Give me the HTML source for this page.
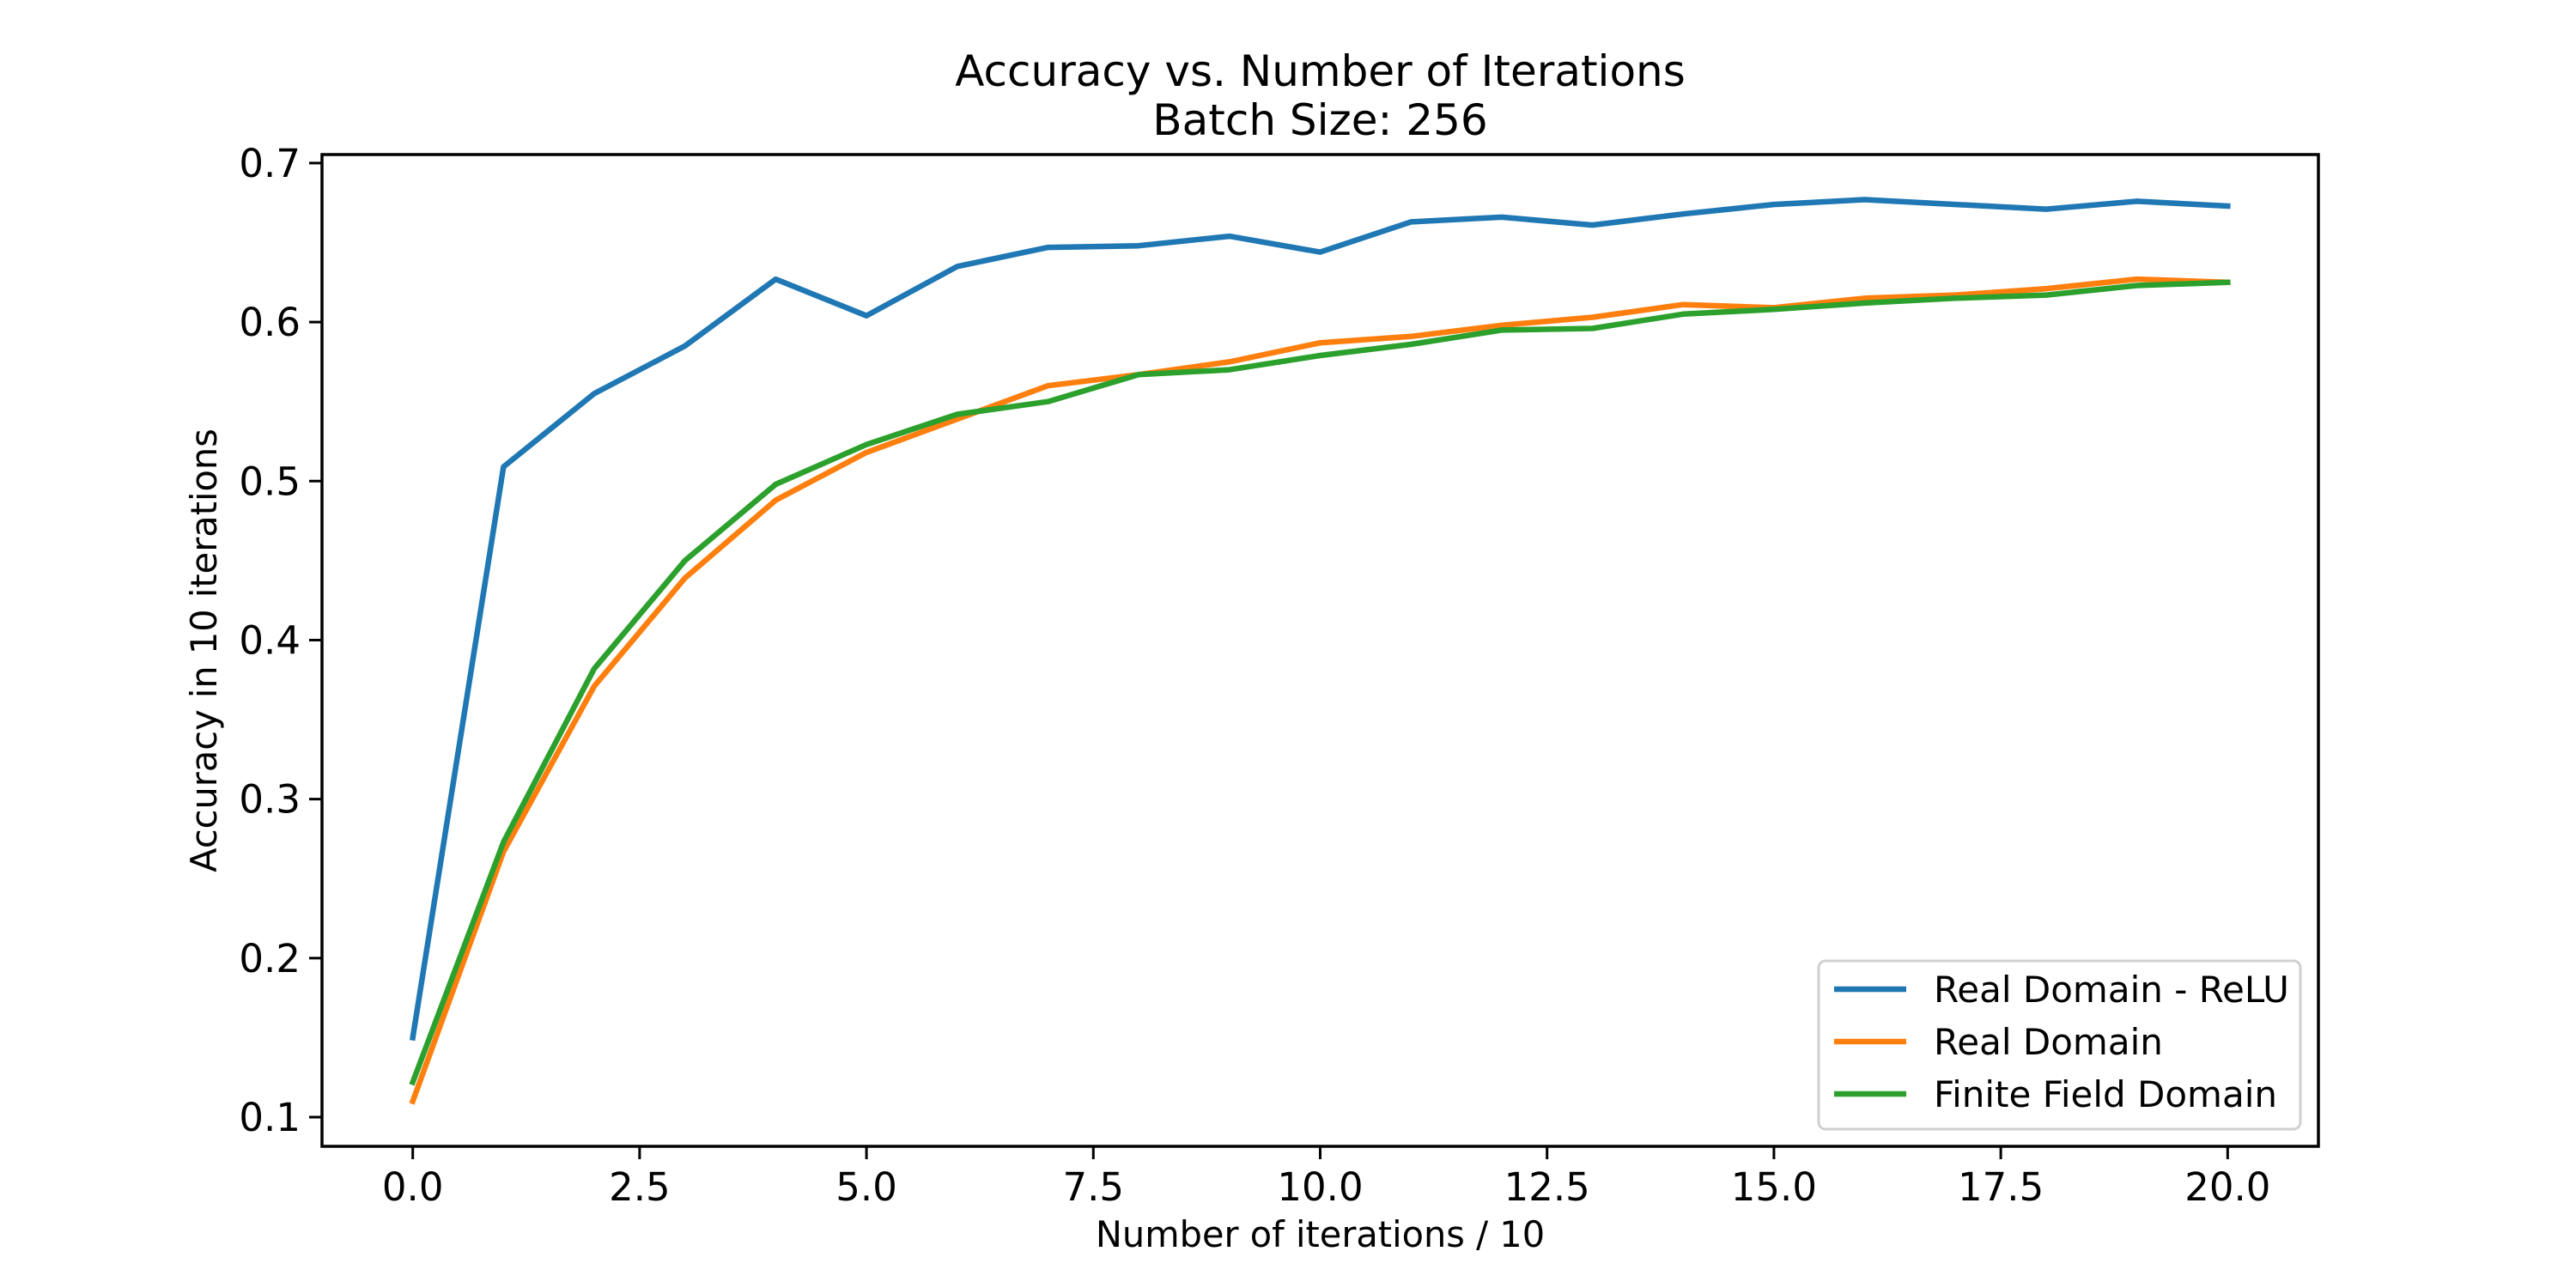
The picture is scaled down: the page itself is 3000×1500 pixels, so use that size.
<!DOCTYPE html>
<html><head><meta charset="utf-8">
<style>
html,body{margin:0;padding:0;background:#fff;}
svg{display:block;font-family:"DejaVu Sans","Liberation Sans",sans-serif;}
</style></head>
<body>
<svg id="chart" width="3000" height="1500" viewBox="0 0 3000 1500" xmlns="http://www.w3.org/2000/svg">
<rect width="3000" height="1500" fill="#fff"/>
<text x="1537.5" y="100" font-size="50" text-anchor="middle">Accuracy vs. Number of Iterations</text>
<text x="1537.5" y="157" font-size="50" text-anchor="middle">Batch Size: 256</text>
<g id="plot"></g>
<text x="1537.5" y="1452" font-size="41.5" text-anchor="middle">Number of iterations / 10</text>
<text x="0" y="0" font-size="41.5" text-anchor="middle" transform="translate(252,757.5) rotate(-90)">Accuracy in 10 iterations</text>
</svg>
<script>
const xValues = [0,1,2,3,4,5,6,7,8,9,10,11,12,13,14,15,16,17,18,19,20];
const reluSeries = [0.150,0.509,0.555,0.585,0.627,0.604,0.635,0.647,0.648,0.654,0.644,0.663,0.666,0.661,0.668,0.674,0.677,0.674,0.671,0.676,0.673];
const realSeries = [0.110,0.267,0.371,0.439,0.488,0.518,0.539,0.560,0.567,0.575,0.587,0.591,0.598,0.603,0.611,0.609,0.615,0.617,0.621,0.627,0.625];
const finiteSeries = [0.122,0.273,0.382,0.450,0.498,0.523,0.542,0.550,0.567,0.570,0.579,0.586,0.595,0.596,0.605,0.608,0.612,0.615,0.617,0.623,0.625];
const xTicks = [0,2.5,5,7.5,10,12.5,15,17.5,20];
const xTickLabels = ["0.0","2.5","5.0","7.5","10.0","12.5","15.0","17.5","20.0"];
const yTicks = [0.1,0.2,0.3,0.4,0.5,0.6,0.7];
const yTickLabels = ["0.1","0.2","0.3","0.4","0.5","0.6","0.7"];
const seriesNames = ["Real Domain - ReLU","Real Domain","Finite Field Domain"];

const NS="http://www.w3.org/2000/svg";
const L=375,R=2700,T=180,B=1335;
const all=reluSeries.concat(realSeries,finiteSeries);
const dmin=Math.min(...all),dmax=Math.max(...all),pad=(dmax-dmin)*0.05;
const y0=dmin-pad,y1=dmax+pad;
const xmin=Math.min(...xValues),xmax=Math.max(...xValues),xp=(xmax-xmin)*0.05;
const x0=xmin-xp,x1=xmax+xp;
function sx(v){return L+(v-x0)/(x1-x0)*(R-L);}
function sy(v){return B-(v-y0)/(y1-y0)*(B-T);}
const g=document.getElementById('plot');
function mk(tag,attrs){const e=document.createElementNS(NS,tag);for(const k in attrs)e.setAttribute(k,attrs[k]);return e;}

const colors=["#1f77b4","#ff7f0e","#2ca02c"];
const series=[reluSeries,realSeries,finiteSeries];
const snames=["line-relu","line-real","line-finite"];
series.forEach((s,i)=>{
  const pts=s.map((v,j)=>sx(xValues[j]).toFixed(1)+","+sy(v).toFixed(1)).join(" ");
  const p=mk('polyline',{points:pts,fill:"none",stroke:colors[i],"stroke-width":6.5,"stroke-linejoin":"round","stroke-linecap":"square"});
  
  
  g.appendChild(p);
});

const frame=mk('rect',{x:L,y:T,width:R-L,height:B-T,fill:"none",stroke:"#000","stroke-width":3.5});


g.appendChild(frame);

xTicks.forEach((v,i)=>{
  const x=sx(v);
  const t=mk('line',{x1:x,x2:x,y1:B,y2:B+15,stroke:"#000","stroke-width":3});
  
  
  g.appendChild(t);
  const tx=mk('text',{x:x,y:B+63,"font-size":45,"text-anchor":"middle"});
  
  
  tx.textContent=xTickLabels[i];
  g.appendChild(tx);
});
yTicks.forEach((v,i)=>{
  const y=sy(v);
  const t=mk('line',{x1:L-15,x2:L,y1:y,y2:y,stroke:"#000","stroke-width":3});
  
  
  g.appendChild(t);
  const tx=mk('text',{x:L-25,y:y+16,"font-size":45,"text-anchor":"end"});
  
  
  tx.textContent=yTickLabels[i];
  g.appendChild(tx);
});

const leg=mk('g',{});


g.appendChild(leg);
const box=mk('rect',{x:2118,y:1119,width:561,height:196,rx:8,fill:"#fff","fill-opacity":0.8,stroke:"#d0d0d0","stroke-width":3});


leg.appendChild(box);
seriesNames.forEach((n,i)=>{
  const y=1152+i*61;
  const ln=mk('line',{x1:2136,x2:2220,y1:y,y2:y,stroke:colors[i],"stroke-width":6.5});
  
  
  leg.appendChild(ln);
  const tx=mk('text',{x:2252,y:y+15,"font-size":42});
  
  
  tx.textContent=n;
  leg.appendChild(tx);
});
</script>
</body></html>
